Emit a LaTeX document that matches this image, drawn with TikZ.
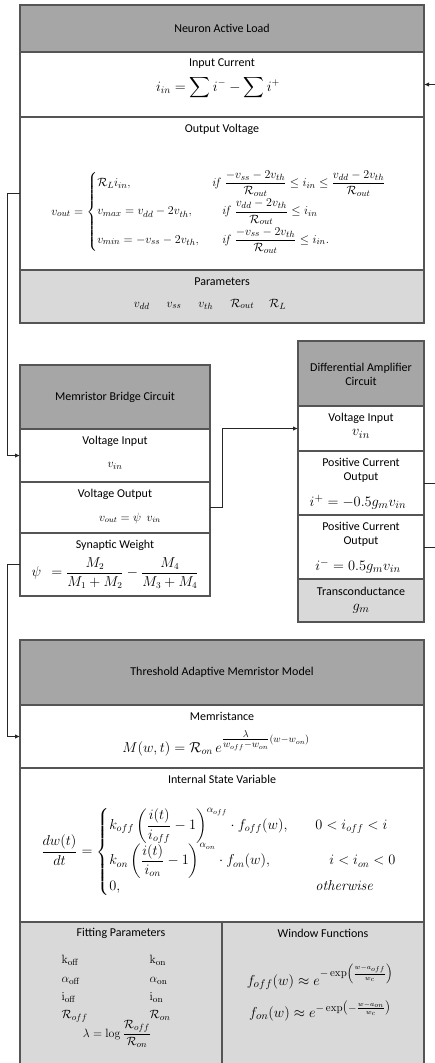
\documentclass[tikz,border=0pt]{standalone}
\usepackage{amsmath}
\usepackage[no-math]{fontspec}
\setmainfont{Carlito}
\usetikzlibrary{arrows.meta}
\definecolor{hdrgray}{HTML}{A6A6A6}
\definecolor{lgray}{HTML}{D9D9D9}
\definecolor{bordergray}{HTML}{555555}
\begin{document}
\begin{tikzpicture}[x=1pt,y=-1pt,
  sect/.style={draw=bordergray, line width=1.3pt, inner sep=0pt, outer sep=0pt, anchor=north west, fill=white},
  hdr/.style={sect, fill=hdrgray},
  par/.style={sect, fill=lgray},
  ttl/.style={inner sep=0pt, font=\fontsize{12}{14}\selectfont, align=center},
  eq/.style={inner sep=0pt, font=\fontsize{13}{15}\selectfont},
  conn/.style={draw=black!85, line width=0.9pt},
  arr/.style={-{Latex[length=5pt,width=4.5pt]}}
]
\useasboundingbox (0,0) rectangle (434,1063);
\fill[white] (0,0) rectangle (434,1063);

% ---------- Neuron Active Load ----------
\node[hdr, minimum width=404, minimum height=47] (nal-h) at (20,5) {};
\node[sect, minimum width=404, minimum height=65] (nal-ic) at (20,52) {};
\node[sect, minimum width=404, minimum height=153] (nal-ov) at (20,117) {};
\node[par, minimum width=404, minimum height=53] (nal-p) at (20,270) {};
\node[ttl] (nal-ht) at (222,28) {Neuron Active Load};
\node[ttl] (nal-ict) at (222,64) {Input Current};
\node[eq, font=\fontsize{14}{16}\selectfont] (nal-ice) at (218,88) {$\displaystyle i_{in} = \sum i^{-} - \sum i^{+}$};
\node[ttl] (nal-ovt) at (222,129) {Output Voltage};
\node[eq] (nal-ove) at (219,212) {$v_{out} = \begin{cases}
 \mathcal{R}_L i_{in}, & \mathit{if}\ \dfrac{-v_{ss}-2v_{th}}{\mathcal{R}_{out}} \le i_{in} \le \dfrac{v_{dd}-2v_{th}}{\mathcal{R}_{out}}\\[7pt]
 v_{max} = v_{dd}-2v_{th}, & \hspace{10pt}\mathit{if}\ \dfrac{v_{dd}-2v_{th}}{\mathcal{R}_{out}} \le i_{in}\\[7pt]
 v_{min} = -v_{ss}-2v_{th}, & \hspace{10pt}\mathit{if}\ \dfrac{-v_{ss}-2v_{th}}{\mathcal{R}_{out}} \le i_{in}.
\end{cases}$};
\node[ttl] (nal-pt) at (222,282) {Parameters};
\node[eq] (nal-pe) at (210,304) {$v_{dd}\hspace{17pt} v_{ss}\hspace{17pt} v_{th}\hspace{17pt} \mathcal{R}_{out}\hspace{15pt} \mathcal{R}_L$};

% ---------- Memristor Bridge Circuit ----------
\node[hdr, minimum width=190, minimum height=64] (mb-h) at (20,365) {};
\node[sect, minimum width=190, minimum height=53] (mb-vi) at (20,429) {};
\node[sect, minimum width=190, minimum height=51] (mb-vo) at (20,482) {};
\node[sect, minimum width=190, minimum height=63] (mb-sw) at (20,533) {};
\node[ttl] (mb-ht) at (115,397) {Memristor Bridge Circuit};
\node[ttl] (mb-vit) at (115,441) {Voltage Input};
\node[eq] (mb-vie) at (115,466) {$v_{in}$};
\node[ttl] (mb-vot) at (115,494) {Voltage Output};
\node[eq, font=\fontsize{12}{14}\selectfont] (mb-voe) at (130,518) {$v_{out} = \psi\ \ v_{in}$};
\node[ttl] (mb-swt) at (115,545) {Synaptic Weight};
\node[eq, font=\fontsize{13.5}{15}\selectfont] (mb-swe) at (115,573) {$\psi\ \ = \dfrac{M_2}{M_1+M_2} - \dfrac{M_4}{M_3+M_4}$};

% ---------- Differential Amplifier Circuit ----------
\node[hdr, minimum width=126, minimum height=65] (da-h) at (298,341) {};
\node[sect, minimum width=126, minimum height=45] (da-vi) at (298,406) {};
\node[sect, minimum width=126, minimum height=64] (da-p) at (298,451) {};
\node[sect, minimum width=126, minimum height=64] (da-n) at (298,515) {};
\node[par, minimum width=126, minimum height=43] (da-g) at (298,579) {};
\node[ttl] (da-ht) at (361,374) {Differential Amplifier\\Circuit};
\node[ttl] (da-vit) at (361,418) {Voltage Input};
\node[eq, font=\fontsize{15}{17}\selectfont] (da-vie) at (361,434) {$v_{in}$};
\node[ttl] (da-pt) at (361,470) {Positive Current\\Output};
\node[eq, font=\fontsize{15}{17}\selectfont] (da-pe) at (358,502) {$i^{+} = -0.5 g_m v_{in}$};
\node[ttl] (da-nt) at (361,534) {Positive Current\\Output};
\node[eq, font=\fontsize{15}{17}\selectfont] (da-ne) at (358,566) {$i^{-} = 0.5 g_m v_{in}$};
\node[ttl] (da-gt) at (361,591) {Transconductance};
\node[eq, font=\fontsize{15}{17}\selectfont] (da-ge) at (361,609) {$g_m$};

% ---------- Threshold Adaptive Memristor Model ----------
\node[hdr, minimum width=404, minimum height=65] (tam-h) at (20,640) {};
\node[sect, minimum width=404, minimum height=63] (tam-m) at (20,705) {};
\node[sect, minimum width=404, minimum height=154] (tam-s) at (20,768) {};
\node[par, minimum width=202, minimum height=145] (tam-f) at (20,922) {};
\node[par, minimum width=202, minimum height=145] (tam-w) at (222,922) {};
\node[ttl] (tam-ht) at (222,672) {Threshold Adaptive Memristor Model};
\node[ttl] (tam-mt) at (222,716) {Memristance};
\node[eq, font=\fontsize{14}{16}\selectfont] (tam-me) at (216,743) {$M(w,t) = \mathcal{R}_{on}\, e^{\genfrac{}{}{}{1}{\lambda}{w_{off}-w_{on}}(w-w_{on})}$};
\node[ttl] (tam-st) at (222,779) {Internal State Variable};
\node[eq, font=\fontsize{14}{16}\selectfont] (tam-se) at (219,852) {$\dfrac{dw(t)}{dt} = \begin{cases}
 k_{off}\left(\dfrac{i(t)}{i_{off}}-1\right)^{\alpha_{off}} \cdot f_{off}(w), & \quad 0<i_{off}<i\\[2pt]
 k_{on}\left(\dfrac{i(t)}{i_{on}}-1\right)^{\alpha_{on}} \cdot f_{on}(w), & \qquad i<i_{on}<0\\[-2pt]
 0, & \quad \mathit{otherwise}
\end{cases}$};
\node[ttl] (tam-ft) at (121,933) {Fitting Parameters};
\node[eq, anchor=north] (tam-fl) at (116,953) {\begin{tabular}{@{}l@{\hspace{62pt}}l@{}}
$\mathrm{k}_{\mathrm{off}}$ & $\mathrm{k}_{\mathrm{on}}$\\[4pt]
$\alpha_{\mathrm{off}}$ & $\alpha_{\mathrm{on}}$\\[3pt]
$\mathrm{i}_{\mathrm{off}}$ & $\mathrm{i}_{\mathrm{on}}$\\[3pt]
$\mathcal{R}_{off}$ & $\mathcal{R}_{on}$
\end{tabular}};
\node[eq] (tam-fe) at (117,1034) {$\lambda = \log\dfrac{\mathcal{R}_{off}}{\mathcal{R}_{on}}$};
\node[ttl] (tam-wt) at (323,933) {Window Functions};
\node[eq, font=\fontsize{15}{17}\selectfont] (tam-we1) at (320,977) {$f_{off}(w) \approx e^{-\exp\left(\frac{w-a_{off}}{w_c}\right)}$};
\node[eq, font=\fontsize{15}{17}\selectfont] (tam-we2) at (320,1011) {$f_{on}(w) \approx e^{-\exp\left(-\frac{w-a_{on}}{w_c}\right)}$};

% ---------- Connectors ----------
\draw[conn, arr] (nal-ov.west) -- ++(-13,0) |- (mb-vi.west);
\draw[conn, arr] (mb-vo.east) -- ++(12,0) |- (da-vi.west);
\draw[conn, arr] (da-p.east) -- ++(14,0) |- (nal-ic.east);
\draw[conn] (da-n.east) -- ++(14,0);
\draw[conn, arr] (mb-sw.west) -- ++(-13,0) |- (tam-m.west);
\end{tikzpicture}
\end{document}
